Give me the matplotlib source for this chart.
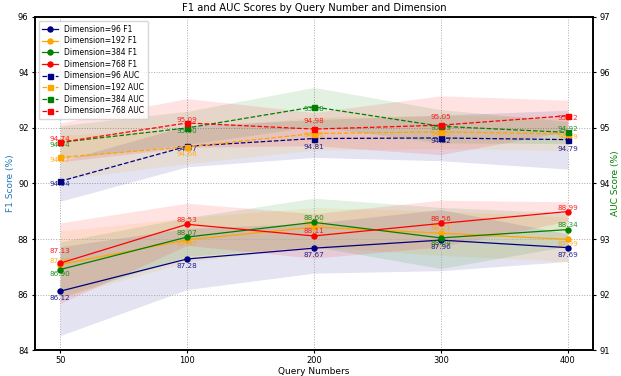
import matplotlib
matplotlib.use("Agg")
import matplotlib.pyplot as plt
import numpy as np

queries = ["50", "100", "200", "300", "400"]
dims = [96, 192, 384, 768]
colors = ["navy", "orange", "green", "red"]

# mean F1 (%) per dimension
f1_96 = [86.12, 87.28, 87.67, 87.96, 87.69]
f1_192 = [87.08, 87.97, 88.43, 88.21, 87.99]
f1_384 = [86.90, 88.07, 88.60, 88.04, 88.34]
f1_768 = [87.13, 88.53, 88.11, 88.56, 88.99]

# std of F1 across runs
f1_std_96 = [1.60, 1.10, 0.90, 1.10, 0.50]
f1_std_192 = [1.20, 0.80, 0.70, 0.80, 0.80]
f1_std_384 = [1.00, 0.70, 0.87, 1.10, 0.60]
f1_std_768 = [1.45, 0.76, 0.80, 0.84, 0.35]

# mean AUC (%) per dimension
auc_96 = [94.04, 94.67, 94.81, 94.82, 94.79]
auc_192 = [94.47, 94.66, 94.90, 94.93, 94.89]
auc_384 = [94.74, 95.00, 95.38, 95.03, 94.92]
auc_768 = [94.74, 95.09, 94.98, 95.05, 95.22]

# std of AUC across runs
auc_std_96 = [0.36, 0.37, 0.34, 0.41, 0.53]
auc_std_192 = [0.40, 0.30, 0.30, 0.30, 0.30]
auc_std_384 = [0.30, 0.30, 0.35, 0.30, 0.20]
auc_std_768 = [0.35, 0.44, 0.30, 0.53, 0.28]

f1_all = [f1_96, f1_192, f1_384, f1_768]
f1_std_all = [f1_std_96, f1_std_192, f1_std_384, f1_std_768]
auc_all = [auc_96, auc_192, auc_384, auc_768]
auc_std_all = [auc_std_96, auc_std_192, auc_std_384, auc_std_768]

# vertical label nudges in pixels (positive = up), picked by hand to limit overlap
f1_nudge = [
    [-7, -7, -7, -7, -7],
    [3.5, -4, 3, 5, -4.5],
    [-4, 4.5, 4.5, -5, 5],
    [12, 4.5, 5, 4.5, 4],
]
auc_nudge = [
    [-3, -3, -8, -3, -9],
    [-3, -7.5, -1.5, -2, -2.6],
    [-2.6, -2.7, -2.4, -2, 3],
    [3.4, 3, 8.4, 8.5, -2],
]

plt.rcParams.update({
    "font.family": "DejaVu Sans",
    "font.size": 6,
})

fig, ax1 = plt.subplots(figsize=(6.21, 3.76), dpi=100)
fig.subplots_adjust(left=0.056, right=0.955, top=0.955, bottom=0.069)
ax2 = ax1.twinx()

x = np.arange(len(queries))
handles = []

for i, dim in enumerate(dims):
    c = colors[i]
    m = np.array(f1_all[i])
    s = np.array(f1_std_all[i])
    h, = ax1.plot(x, m, color=c, marker="o", markersize=3.6, linewidth=0.9,
                  label=f"Dimension={dim} F1", zorder=3)
    ax1.fill_between(x, m - s, m + s, color=c, alpha=0.11, linewidth=0)
    for j, v in enumerate(m):
        ax1.annotate(f"{v:.2f}", (x[j], v), textcoords="offset pixels",
                     xytext=(0, f1_nudge[i][j]), ha="center", va="center",
                     fontsize=5.2, color=c, alpha=0.85)
    handles.append(h)

for i, dim in enumerate(dims):
    c = colors[i]
    m = np.array(auc_all[i])
    s = np.array(auc_std_all[i])
    h, = ax2.plot(x, m, color=c, marker="s", markersize=3.6, linewidth=0.9,
                  linestyle="--", label=f"Dimension={dim} AUC", zorder=3)
    ax2.fill_between(x, m - s, m + s, color=c, alpha=0.11, linewidth=0)
    for j, v in enumerate(m):
        ax2.annotate(f"{v:.2f}", (x[j], v), textcoords="offset pixels",
                     xytext=(0, auc_nudge[i][j]), ha="center", va="center",
                     fontsize=5.2, color=c, alpha=0.85)
    handles.append(h)

ax1.set_xlim(-0.2, 4.2)
ax1.set_xticks(x)
ax1.set_xticklabels(queries)
ax1.set_ylim(84, 96)
ax1.set_yticks(np.arange(84, 97, 2))
ax2.set_ylim(91, 97)
ax2.set_yticks(np.arange(91, 98, 1))

ax1.set_xlabel("Query Numbers", fontsize=6.5, labelpad=1)
ax1.set_ylabel("F1 Score (%)", color="tab:blue", fontsize=6.5, labelpad=2)
ax2.set_ylabel("AUC Score (%)", color="green", fontsize=6.5, labelpad=1)
ax1.set_title("F1 and AUC Scores by Query Number and Dimension", fontsize=7.2, pad=4)

ax1.grid(True, linestyle=":", color="#aaaaaa", linewidth=0.7)
for ax in (ax1, ax2):
    ax.tick_params(labelsize=6, length=2.5, width=0.8, pad=2)
    for sp in ax.spines.values():
        sp.set_linewidth(1.2)

ax2.legend(handles=handles, loc="upper left", fontsize=5.5, framealpha=0.8,
           handlelength=2.0, borderpad=0.5, labelspacing=0.35)

fig.savefig("out.png", dpi=100)
